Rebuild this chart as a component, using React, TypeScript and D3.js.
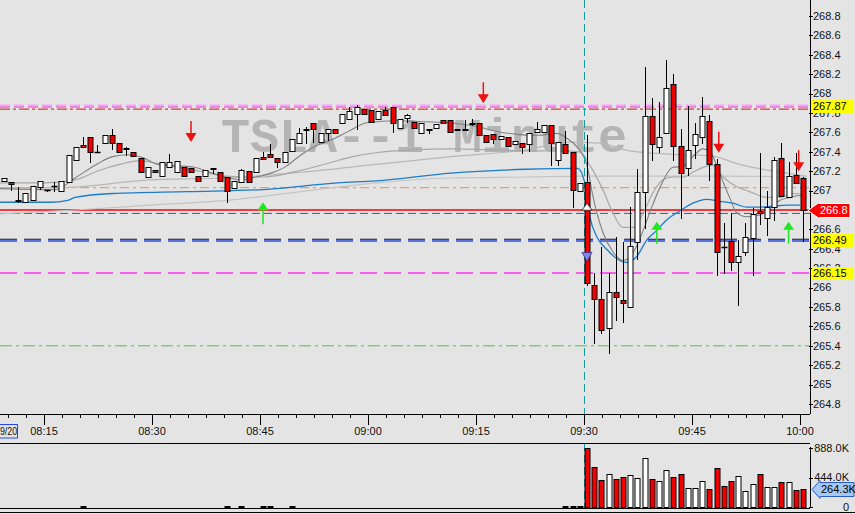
import React from "react";
import * as d3 from "d3";

// ---------- DATA ----------
const START_TIME = "08:09"; // first 1-minute bar
const opens = [
  267.10, 267.09, 266.90, 266.88, 266.90, 267.04, 267.01, 267.05, 267.00, 267.09,
  267.32, 267.47, 267.55, 267.40, 267.49, 267.57, 267.49, 267.44, 267.40, 267.34,
  267.14, 267.21, 267.15, 267.24, 267.19, 267.24, 267.23, 267.15, 267.15, 267.23,
  267.19, 267.14, 267.03, 267.09, 267.20, 267.19, 267.35, 267.38, 267.34, 267.29,
  267.41, 267.49, 267.63, 267.70, 267.50, 267.59, 267.63, 267.70, 267.74, 267.79,
  267.84, 267.83, 267.74, 267.83, 267.86, 267.65, 267.75, 267.71, 267.59, 267.63,
  267.65, 267.73, 267.73, 267.64, 267.64, 267.70, 267.70, 267.57, 267.58, 267.53,
  267.55, 267.48, 267.49, 267.48, 267.60, 267.60, 267.68, 267.32, 267.48, 267.40,
  267.00, 267.09, 266.03, 265.88, 265.58, 265.95, 265.87, 265.80, 266.47, 266.99,
  267.77, 267.45, 267.59, 268.10, 267.46, 267.23, 267.47, 267.55, 267.72, 267.27,
  266.42, 266.48, 266.26, 266.37, 266.51, 266.79, 266.72, 266.83, 267.34, 266.93,
  267.16, 267.13,
];
const highs = [
  267.13, 267.09, 267.04, 266.98, 267.05, 267.10, 267.01, 267.09, 267.10, 267.37,
  267.45, 267.55, 267.55, 267.47, 267.57, 267.64, 267.49, 267.45, 267.40, 267.34,
  267.24, 267.21, 267.29, 267.38, 267.31, 267.24, 267.23, 267.15, 267.21, 267.23,
  267.19, 267.14, 267.10, 267.22, 267.20, 267.34, 267.40, 267.48, 267.34, 267.40,
  267.53, 267.65, 267.66, 267.70, 267.59, 267.64, 267.63, 267.79, 267.86, 267.88,
  267.84, 267.83, 267.82, 267.86, 267.86, 267.74, 267.79, 267.71, 267.70, 267.64,
  267.69, 267.73, 267.73, 267.64, 267.73, 267.74, 267.70, 267.57, 267.58, 267.56,
  267.55, 267.51, 267.49, 267.59, 267.71, 267.68, 267.68, 267.50, 267.61, 267.40,
  267.08, 267.57, 266.15, 266.42, 266.15, 266.52, 266.47, 266.83, 267.22, 268.27,
  267.95, 267.91, 268.35, 268.20, 267.63, 267.87, 267.70, 267.97, 267.78, 267.33,
  266.67, 266.77, 266.49, 266.67, 266.82, 267.39, 267.00, 267.35, 267.49, 267.30,
  267.39, 267.14,
];
const lows = [
  267.10, 267.01, 266.88, 266.88, 266.90, 267.02, 267.00, 267.00, 267.00, 267.09,
  267.32, 267.45, 267.30, 267.40, 267.49, 267.43, 267.40, 267.37, 267.36, 267.19,
  267.14, 267.19, 267.15, 267.24, 267.19, 267.15, 267.19, 267.10, 267.15, 267.18,
  267.10, 266.88, 267.03, 267.09, 267.09, 267.19, 267.33, 267.35, 267.24, 267.29,
  267.41, 267.49, 267.49, 267.50, 267.50, 267.52, 267.59, 267.70, 267.74, 267.64,
  267.79, 267.71, 267.74, 267.78, 267.60, 267.65, 267.71, 267.65, 267.59, 267.59,
  267.65, 267.70, 267.60, 267.63, 267.63, 267.68, 267.57, 267.50, 267.49, 267.53,
  267.46, 267.48, 267.39, 267.41, 267.60, 267.60, 267.26, 267.26, 267.39, 266.83,
  267.00, 266.03, 265.43, 265.53, 265.33, 265.67, 265.65, 265.80, 266.30, 266.61,
  267.32, 267.40, 267.59, 267.32, 266.72, 267.16, 267.34, 267.49, 267.11, 266.13,
  266.15, 266.18, 265.82, 266.34, 266.13, 266.66, 266.54, 266.70, 266.94, 266.93,
  267.08, 266.48,
];
const closes = [
  267.13, 267.07, 266.89, 266.98, 267.05, 267.10, 267.01, 267.05, 267.10, 267.37,
  267.45, 267.45, 267.40, 267.40, 267.57, 267.49, 267.40, 267.43, 267.36, 267.19,
  267.24, 267.19, 267.29, 267.29, 267.31, 267.15, 267.19, 267.10, 267.21, 267.22,
  267.10, 267.00, 267.10, 267.21, 267.09, 267.34, 267.33, 267.35, 267.29, 267.40,
  267.53, 267.59, 267.62, 267.64, 267.59, 267.64, 267.59, 267.79, 267.82, 267.86,
  267.79, 267.71, 267.82, 267.78, 267.70, 267.74, 267.78, 267.65, 267.70, 267.62,
  267.69, 267.70, 267.60, 267.63, 267.63, 267.69, 267.57, 267.50, 267.53, 267.56,
  267.46, 267.51, 267.45, 267.59, 267.63, 267.68, 267.49, 267.50, 267.39, 267.01,
  267.08, 266.05, 265.88, 265.56, 265.95, 265.90, 265.84, 266.43, 266.99, 267.77,
  267.48, 267.55, 268.06, 267.46, 267.18, 267.42, 267.58, 267.77, 267.27, 266.37,
  266.42, 266.26, 266.33, 266.52, 266.76, 266.77, 266.83, 267.32, 266.94, 267.15,
  267.08, 266.80,
];
// volume in thousands of shares
const volumesK = [
  3, 2, 4, 2, 3, 5, 2, 3, 4, 6,
  5, 14, 4, 3, 5, 4, 3, 2, 4, 3,
  5, 4, 3, 2, 4, 3, 3, 2, 4, 3,
  5, 12, 4, 12, 3, 5, 13, 12, 4, 5,
  14, 6, 4, 3, 5, 4, 3, 6, 5, 4,
  3, 5, 4, 3, 6, 4, 3, 5, 4, 3,
  2, 4, 3, 5, 3, 4, 6, 5, 4, 3,
  5, 4, 3, 6, 4, 5, 6, 8, 12, 15,
  12, 883, 597, 402, 497, 417, 456, 477, 432, 733,
  417, 387, 552, 447, 492, 281, 281, 387, 266, 582,
  311, 387, 462, 236, 342, 492, 296, 296, 372, 372,
  251, 264,
];

// moving-average style overlays: [bar index, price]
const maFast: [number, number][] = [
  [-0.6, 267.02], [7.1, 267.01], [9.9, 267.13], [13.1, 267.28], [15.1, 267.35], [17.2, 267.37],
  [19.3, 267.34], [21.4, 267.27], [26.5, 267.24], [28.6, 267.19], [30.8, 267.14], [32.9, 267.11],
  [35.0, 267.14], [37.1, 267.18], [39.2, 267.25], [41.3, 267.37], [43.3, 267.46], [45.4, 267.52],
  [48.1, 267.62], [50.4, 267.70], [54.6, 267.72], [58.2, 267.71], [61.9, 267.70], [65.7, 267.66],
  [68.5, 267.61], [71.3, 267.58], [74.0, 267.57], [76.8, 267.59], [78.2, 267.54], [79.6, 267.45],
  [81.0, 267.26], [81.8, 266.95], [83.2, 266.57], [84.6, 266.37], [86.0, 266.28], [87.4, 266.36],
  [88.8, 266.59], [90.1, 266.85], [91.5, 267.09], [92.9, 267.24], [94.3, 267.25], [95.7, 267.35],
  [97.1, 267.43], [98.1, 267.40], [99.4, 267.18], [100.8, 266.93], [101.8, 266.77], [103.2, 266.73],
  [105.0, 266.75], [106.4, 266.82], [107.8, 266.90], [109.2, 266.93], [110.6, 266.95], [111.5, 266.93],
];
const maMid: [number, number][] = [
  [-0.6, 267.08], [5.7, 267.08], [9.9, 267.11], [13.3, 267.21], [16.1, 267.27], [18.9, 267.31],
  [21.3, 267.28], [27.2, 267.20], [30.8, 267.15], [36.0, 267.14], [41.3, 267.21], [45.4, 267.29],
  [48.5, 267.35], [51.7, 267.39], [56.9, 267.42], [62.1, 267.43], [67.4, 267.42], [72.5, 267.41],
  [77.8, 267.41], [80.0, 267.40], [81.4, 267.26], [83.2, 267.01], [84.6, 266.77], [86.0, 266.62],
  [87.4, 266.62], [88.8, 266.77], [90.1, 266.97], [91.5, 267.11], [92.9, 267.14], [94.3, 267.14],
  [95.7, 267.19], [97.1, 267.24], [98.5, 267.26], [99.9, 267.14], [101.8, 267.04], [103.6, 266.99],
  [106.0, 266.93], [107.8, 266.93], [109.6, 266.97], [111.5, 266.96],
];
const maSlow: [number, number][] = [
  [-0.6, 267.03], [7.8, 267.03], [20.3, 267.11], [30.8, 267.13], [41.3, 267.19], [51.7, 267.27],
  [62.1, 267.35], [72.5, 267.42], [78.6, 267.50], [82.8, 267.49], [86.9, 267.41], [93.9, 267.37],
  [98.1, 267.36], [102.2, 267.27], [107.8, 267.19], [111.5, 267.15],
];
const maLong: [number, number][] = [
  [-0.6, 266.76], [9.9, 266.80], [20.3, 266.85], [30.8, 266.90], [41.3, 266.99], [51.7, 267.08],
  [62.1, 267.13], [72.5, 267.14], [80.8, 267.15], [89.7, 267.15], [99.4, 267.15], [111.5, 267.14],
];
const maBlue: [number, number][] = [
  [-0.6, 266.88], [6.4, 266.88], [8.9, 266.90], [9.9, 266.93], [15.1, 266.97], [25.6, 266.99],
  [36.0, 267.01], [46.4, 267.08], [51.7, 267.10], [62.1, 267.18], [72.5, 267.22], [79.7, 267.23],
  [80.7, 267.08], [81.4, 266.73], [82.4, 266.52], [83.8, 266.39], [85.1, 266.30], [86.5, 266.26],
  [87.9, 266.32], [89.3, 266.49], [90.7, 266.59], [92.1, 266.70], [93.9, 266.79], [95.7, 266.87],
  [97.6, 266.91], [99.4, 266.89], [101.3, 266.87], [103.2, 266.83], [105.0, 266.83], [106.8, 266.84],
  [108.8, 266.85], [110.6, 266.85],
];

// horizontal levels
const levelHighPink = 267.87;
const levelHighRed = 267.84;
const levelOrange = 267.03;
const levelLast = 266.8;
const levelBlueThin = 266.77;
const levelBlueThick = 266.49;
const levelMagenta = 266.15;
const levelGreen = 265.4;

// signal arrows: [bar index, price of arrow tip]
const sellSignals: [number, number][] = [[26, 267.5], [66.6, 267.9], [99.3, 267.39], [110.4, 267.2]];
const buySignals: [number, number][] = [[36, 266.88], [90.7, 266.68], [109, 266.68]];
const openUpMarker: [number, number] = [81, 266.87];
const openDownMarker: [number, number] = [81, 266.27];

const timeLabels = ["08:15", "08:30", "08:45", "09:00", "09:15", "09:30", "09:45", "10:00"];
const sessionOpen = "09:30";
const dateLabel = "9/20";
const watermark = "TSLA--1 Minute";
const lastVolumeK = 264.3;
const volumeMaxK = 888;

// ---------- CHART ----------
const W = 855;
const H = 514;
const AXIS_X = 810;
const MAIN_BOTTOM = 414;
const VOL_TOP = 443;
const VOL_BOTTOM = 508;
const FONT = "'Liberation Sans', Arial, sans-serif";

const hm = (s: string) => {
  const [h, m] = s.split(":").map(Number);
  return h * 60 + m;
};

export default function App() {
  const t0 = hm(START_TIME);
  const n = opens.length;
  const xTick = d3.scaleLinear().domain([t0, t0 + 111]).range([0.8, 800]);
  const barX = (b: number) => xTick(t0 + b) + 3;
  const cx = (i: number) => Math.round(barX(i));
  const y = d3.scaleLinear().domain([264.8, 268.8]).range([404, 16]);
  const yv = d3.scaleLinear().domain([0, volumeMaxK]).range([507, 448]);

  const lineGen = d3
    .line<[number, number]>()
    .x((d) => barX(d[0]))
    .y((d) => y(d[1]))
    .curve(d3.curveMonotoneX);

  const priceTicks = d3.range(0, 21).map((i) => +(264.8 + i * 0.2).toFixed(1));
  const fmtPrice = (v: number) => v.toFixed(1).replace(/\.0$/, "");
  const majorTimes = timeLabels.map(hm);
  const minorTicks = d3
    .range(-2, 46)
    .map((i) => 495 + i * 2.5)
    .filter((t) => xTick(t) >= 0 && xTick(t) <= AXIS_X - 2);

  const red = "#f00000";
  const hLine = (p: number, color: string, width: number, dash?: string, dy = 0) => (
    <line x1={0} x2={AXIS_X} y1={y(p) + dy} y2={y(p) + dy} stroke={color} strokeWidth={width} strokeDasharray={dash} />
  );

  const tag = (p: number, text: string, bg: string) => {
    const yy = Math.round(y(p)) + 0.5;
    return (
      <g>
        <rect x={812} y={yy - 6.5} width={41} height={13} fill={bg} />
        <text x={813} y={yy} dy="0.35em" fontSize={11} fontFamily={FONT} fill="#000">
          {text}
        </text>
      </g>
    );
  };

  const lastY = Math.round(y(levelLast)) + 0.5;
  const volY = Math.round(yv(lastVolumeK)) + 0.5;
  const sessionX = Math.round(xTick(hm(sessionOpen))) + 0.5;

  return (
    <svg
      width={W}
      height={H}
      style={{ position: "fixed", left: 0, top: 0, display: "block", background: "#e4e4e4" }}
    >
      <rect x={0} y={0} width={W} height={H} fill="#e4e4e4" />
      {/* watermark */}
      <text
        x={221}
        y={152}
        fontFamily="'Liberation Mono', 'Courier New', monospace"
        fontWeight="bold"
        fontSize={48}
        fill="#b4b4b4"
        textLength={406}
        lengthAdjust="spacingAndGlyphs"
        style={{ whiteSpace: "pre" }}
      >
        {watermark}
      </text>

      {/* level lines */}
      {hLine(levelHighPink, "#ff9cff", 1.5, "10,4", -1)}
      {hLine(levelHighPink, "#e830e8", 1, "10,4", 0.8)}
      {hLine(levelHighRed, "#dd1111", 1, "10,3,3,3")}
      {hLine(levelOrange, "#f08a55", 1, "9,4,3,4")}
      {hLine(levelBlueThin, "#3a4fe0", 1, "8,4", 0.5)}
      {hLine(levelLast, "#ff0000", 1.5)}
      {hLine(levelBlueThick, "#111", 1.2, "17,7", -0.8)}
      {hLine(levelBlueThick, "#2848e0", 1.6, "17,7", 0.9)}
      {hLine(levelMagenta, "#ff30ee", 1.5, "17,7")}
      {hLine(levelGreen, "#4cc64c", 1, "12,4,3,4")}

      {/* overlays */}
      <path d={lineGen(maLong) || ""} fill="none" stroke="#c4c4c4" strokeWidth={1.2} />
      <path d={lineGen(maSlow) || ""} fill="none" stroke="#b8b8b8" strokeWidth={1.2} />
      <path d={lineGen(maMid) || ""} fill="none" stroke="#a8a8a8" strokeWidth={1.2} />
      <path d={lineGen(maBlue) || ""} fill="none" stroke="#1b7cc8" strokeWidth={1.3} />
      <path d={lineGen(maFast) || ""} fill="none" stroke="#808080" strokeWidth={1.1} />

      {/* session open vertical */}
      <line x1={sessionX} x2={sessionX} y1={0} y2={MAIN_BOTTOM} stroke="#199b9b" strokeWidth={1} strokeDasharray="8,4" />
      <line x1={sessionX} x2={sessionX} y1={VOL_TOP} y2={VOL_BOTTOM} stroke="#199b9b" strokeWidth={1} strokeDasharray="8,4" />

      {/* candles */}
      {d3.range(n).map((i) => {
        const o = opens[i], c = closes[i], h = highs[i], l = lows[i];
        const x = cx(i) + 0.5;
        const top = Math.round(y(Math.max(o, c)));
        const bot = Math.round(y(Math.min(o, c)));
        const down = c < o;
        const flat = c === o;
        return (
          <g key={i}>
            <line x1={x} x2={x} y1={Math.round(y(h))} y2={Math.round(y(l)) + 1} stroke="#000" strokeWidth={1} />
            {flat ? (
              <line x1={x - 3} x2={x + 3} y1={top + 0.5} y2={top + 0.5} stroke="#000" strokeWidth={1.5} />
            ) : (
              <rect
                x={x - 2.5}
                y={top + 0.5}
                width={5}
                height={Math.max(1, bot - top)}
                fill={down ? red : "#ffffff"}
                stroke="#000"
                strokeWidth={1}
              />
            )}
          </g>
        );
      })}

      {/* signals */}
      {sellSignals.map(([b, p], i) => {
        const x = barX(b);
        const t = y(p);
        return (
          <g key={"s" + i}>
            <line x1={x} x2={x} y1={t - 21} y2={t - 8} stroke="#ee1111" strokeWidth={1.5} />
            <path d={`M${x - 5.5},${t - 9} L${x + 5.5},${t - 9} L${x},${t} Z`} fill="#ee1111" />
          </g>
        );
      })}
      {buySignals.map(([b, p], i) => {
        const x = barX(b);
        const t = y(p);
        return (
          <g key={"b" + i}>
            <line x1={x} x2={x} y1={t + 7} y2={t + 22} stroke="#22e622" strokeWidth={1.5} />
            <path d={`M${x - 5.5},${t + 8} L${x + 5.5},${t + 8} L${x},${t} Z`} fill="#22e622" />
          </g>
        );
      })}
      {(() => {
        const x = barX(openUpMarker[0]);
        const t = y(openUpMarker[1]);
        return <path d={`M${x - 5},${t + 7} L${x + 5},${t + 7} L${x},${t} Z`} fill="#ffffff" stroke="#222" strokeWidth={0.8} />;
      })()}
      {(() => {
        const x = barX(openDownMarker[0]);
        const t = y(openDownMarker[1]);
        return <path d={`M${x - 5},${t - 9} L${x + 5},${t - 9} L${x},${t} Z`} fill="#8585e6" stroke="#333399" strokeWidth={0.8} />;
      })()}

      {/* main axes */}
      <line x1={0} x2={AXIS_X} y1={MAIN_BOTTOM + 0.5} y2={MAIN_BOTTOM + 0.5} stroke="#000" />
      <line x1={AXIS_X + 0.5} x2={AXIS_X + 0.5} y1={0} y2={MAIN_BOTTOM} stroke="#000" />
      {priceTicks.map((p) => (
        <g key={p}>
          <line x1={AXIS_X - 1} x2={AXIS_X + 3} y1={Math.round(y(p)) + 0.5} y2={Math.round(y(p)) + 0.5} stroke="#000" />
          {p !== levelLast && (
            <text x={813} y={y(p)} dy="0.35em" fontSize={11} fontFamily={FONT} fill="#111">
              {fmtPrice(p)}
            </text>
          )}
        </g>
      ))}
      {minorTicks.map((t) => (
        <line key={t} x1={Math.round(xTick(t)) + 0.5} x2={Math.round(xTick(t)) + 0.5} y1={MAIN_BOTTOM} y2={MAIN_BOTTOM + 4} stroke="#000" />
      ))}
      {majorTimes.map((t, i) => (
        <g key={t}>
          <line x1={Math.round(xTick(t)) + 0.5} x2={Math.round(xTick(t)) + 0.5} y1={MAIN_BOTTOM} y2={MAIN_BOTTOM + 11} stroke="#000" />
          <text x={xTick(t)} y={435} textAnchor="middle" fontSize={11} fontFamily={FONT} fill="#111">
            {timeLabels[i]}
          </text>
        </g>
      ))}
      {/* date stamp */}
      <rect x={-10} y={424.5} width={27.5} height={13.5} fill="none" stroke="#2244ff" strokeWidth={1} />
      <text x={17} y={435} textAnchor="end" fontSize={10} fontFamily={FONT} fill="#111" textLength={17} lengthAdjust="spacingAndGlyphs">
        {dateLabel}
      </text>

      {/* price tags */}
      {tag(levelHighPink, levelHighPink.toFixed(2), "#ffff00")}
      {tag(levelBlueThick, levelBlueThick.toFixed(2), "#ffff00")}
      {tag(levelMagenta, levelMagenta.toFixed(2), "#ffff00")}
      <path
        d={`M808,${lastY} L819,${lastY - 8} L819,${lastY - 7} L850,${lastY - 7} L850,${lastY + 7} L819,${lastY + 7} L819,${lastY + 8} Z`}
        fill="#ff0000"
        stroke="#ffffff"
        strokeWidth={1}
      />
      <text x={820} y={lastY} dy="0.36em" fontSize={11} fontFamily={FONT} fill="#ffffff">
        {levelLast.toFixed(1)}
      </text>

      {/* volume panel */}
      <line x1={0} x2={AXIS_X} y1={VOL_TOP + 0.5} y2={VOL_TOP + 0.5} stroke="#000" />
      <line x1={0} x2={AXIS_X} y1={VOL_BOTTOM + 0.5} y2={VOL_BOTTOM + 0.5} stroke="#000" />
      <line x1={0} x2={W} y1={512.5} y2={512.5} stroke="#000" />
      <line x1={AXIS_X + 0.5} x2={AXIS_X + 0.5} y1={VOL_TOP + 4} y2={VOL_BOTTOM} stroke="#000" />
      {d3.range(n).map((i) => {
        const v = volumesK[i];
        const h = yv(0) - yv(v);
        if (h < 0.7) return null;
        const x = cx(i) + 0.5;
        const down = closes[i] <= opens[i];
        return (
          <rect
            key={"v" + i}
            x={x - 2.5}
            y={Math.round(yv(v)) + 0.5}
            width={5}
            height={Math.max(1, Math.round(yv(0) - yv(v)))}
            fill={down ? red : "#ffffff"}
            stroke="#000"
            strokeWidth={1}
          />
        );
      })}
      {[volumeMaxK, volumeMaxK / 2, 0].map((v) => (
        <g key={"vt" + v}>
          <line x1={AXIS_X - 1} x2={AXIS_X + 3} y1={Math.round(yv(v)) + 0.5} y2={Math.round(yv(v)) + 0.5} stroke="#000" />
          <text x={849} y={yv(v)} dy="0.35em" textAnchor="end" fontSize={11} fontFamily={FONT} fill="#111">
            {v === 0 ? "0" : v.toFixed(1) + "K"}
          </text>
        </g>
      ))}
      <path
        d={`M812,${volY} L820,${volY - 9} L820,${volY - 7} L854,${volY - 7} L854,${volY + 7} L820,${volY + 7} L820,${volY + 9} Z`}
        fill="#a6c8f2"
        stroke="#2a5cc8"
        strokeWidth={1}
      />
      <text x={821} y={volY} dy="0.36em" fontSize={11} fontFamily={FONT} fill="#000">
        {lastVolumeK.toFixed(1) + "K"}
      </text>
    </svg>
  );
}
